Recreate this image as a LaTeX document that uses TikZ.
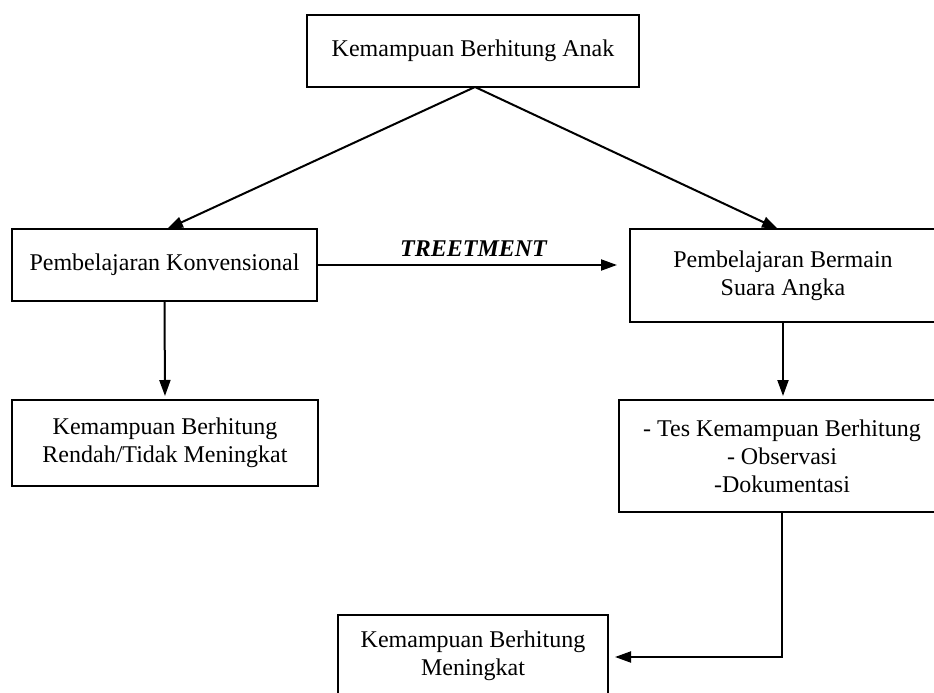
\documentclass[tikz,border=0pt]{standalone}
\usepackage{fontspec}
\setmainfont{Liberation Serif}
\usetikzlibrary{arrows.meta}
\begin{document}
\begin{tikzpicture}[x=1pt,y=-1pt,
  box/.style={draw=black,line width=2pt,fill=white,align=center,inner sep=0pt,
    font=\fontsize{24}{28}\selectfont},
  conn/.style={draw=black,line width=2pt,-{Triangle[length=16pt,width=11pt]}}]
\clip (0,0) rectangle (934,693);
\fill[white] (0,0) rectangle (934,693);
\node[box,minimum width=332,minimum height=72] (top) at (473,51) {Kemampuan Berhitung Anak};
\node[box,minimum width=305,minimum height=72] (left) at (164.5,265) {Pembelajaran Konvensional};
\node[box,minimum width=306,minimum height=93] (right) at (783,275.5) {Pembelajaran Bermain\\Suara Angka};
\node[box,minimum width=306,minimum height=86] (lowl) at (165,443) {Kemampuan Berhitung\\Rendah/Tidak Meningkat};
\node[box,minimum width=326,minimum height=112] (lowr) at (782,456) {- Tes Kemampuan Berhitung\\- Observasi\\-Dokumentasi};
\node[box,minimum width=270,minimum height=82] (bot) at (473,656) {Kemampuan Berhitung\\Meningkat};
\coordinate (apex) at (475,87);
\coordinate (ltip) at (167,229);
\coordinate (rtip) at (778,229);
\draw[conn] (apex) -- (ltip);
\draw[conn] (apex) -- (rtip);
\draw[conn,shorten >=12pt] (left.east) -- (left.east -| right.west)
  node[midway,above=4pt,font=\fontsize{24}{28}\selectfont\bfseries\itshape] (treat) {TREETMENT};
\draw[conn,shorten >=3pt] (left.south) -- (lowl.north);
\draw[conn,shorten >=3pt] (right.south) -- (right.south |- lowr.north);
\coordinate (corner) at (782,657);
\draw[conn,shorten >=6pt] (lowr.south) -- (corner) -- (corner -| bot.east);
\end{tikzpicture}
\end{document}
